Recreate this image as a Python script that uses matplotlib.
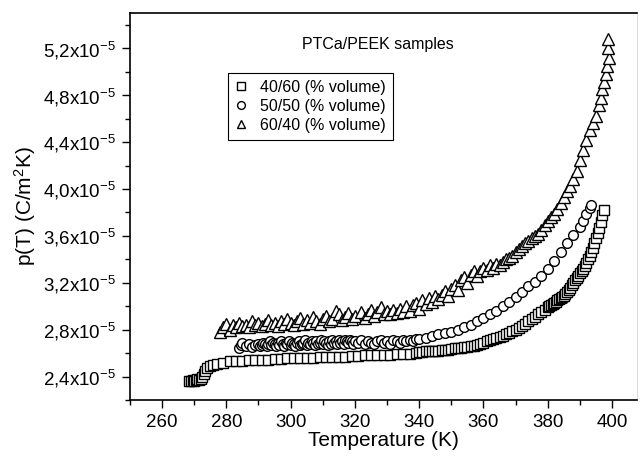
"""
Pyroelectric coefficient p(T) of PTCa/PEEK composite samples
for three volume fractions.
"""

import matplotlib
matplotlib.use('Agg')
import matplotlib.pyplot as plt
from matplotlib.ticker import MultipleLocator, FuncFormatter
import numpy as np

# data, p in units of 1e-5 C/m^2K
T_40_60 = [268.5, 269, 269.5, 270, 270.5, 271, 271.5, 272, 272.5, 273, 273.5, 274, 275, 276, 277,
           279, 281, 283, 285, 287, 289, 291, 293, 295, 297, 299, 301, 303, 305, 307, 309, 311,
           313, 315, 317, 319, 321, 323, 325, 327, 329, 331, 333, 335, 337, 339, 340, 341, 342,
           343, 344, 345, 346, 347, 348, 349, 350, 351, 352, 353, 354, 355, 356, 357, 358, 359,
           360, 361, 362, 363, 364, 365, 366, 367, 368, 369, 370, 371, 372, 373, 374, 375, 376,
           377, 378, 379, 380, 380.5, 381, 381.5, 382, 382.5, 383, 383.5, 384, 384.5, 385, 385.5,
           386, 386.5, 387, 387.5, 388, 388.5, 389, 389.5, 390, 390.5, 391, 391.5, 392, 392.5,
           393, 393.5, 394, 394.5, 395, 395.5, 396, 396.5, 397, 397.5]
p_40_60 = [2.36, 2.36, 2.37, 2.36, 2.37, 2.38, 2.37, 2.38, 2.40, 2.42, 2.45, 2.47, 2.49, 2.50, 2.51,
           2.52, 2.53, 2.53, 2.535, 2.54, 2.54, 2.545, 2.545, 2.55, 2.55, 2.555, 2.555, 2.56, 2.56,
           2.56, 2.565, 2.565, 2.57, 2.57, 2.57, 2.575, 2.575, 2.58, 2.58, 2.58, 2.585, 2.585, 2.59,
           2.59, 2.595, 2.60, 2.61, 2.61, 2.615, 2.615, 2.62, 2.62, 2.62, 2.625, 2.63, 2.63, 2.635,
           2.64, 2.64, 2.645, 2.65, 2.655, 2.66, 2.665, 2.67, 2.68, 2.69, 2.70, 2.71, 2.72, 2.73,
           2.74, 2.75, 2.76, 2.77, 2.785, 2.80, 2.815, 2.83, 2.85, 2.87, 2.89, 2.91, 2.93, 2.95,
           2.97, 2.99, 3.00, 3.01, 3.02, 3.03, 3.04, 3.05, 3.06, 3.07, 3.08, 3.09, 3.105,
           3.12, 3.14, 3.16, 3.18, 3.20, 3.22, 3.24, 3.26, 3.28, 3.30, 3.32, 3.345, 3.37, 3.40,
           3.43, 3.465, 3.50, 3.54, 3.58, 3.625, 3.67, 3.72, 3.78, 3.82]

T_50_50 = [284, 284.5, 285, 286, 287, 288, 289, 290, 290.5, 291, 291.5, 292, 292.5, 293, 293.5,
           294, 294.5, 295, 295.5, 296, 296.5, 297, 297.5, 298, 298.5, 299, 299.5, 300, 300.5,
           301, 301.5, 302, 302.5, 303, 303.5, 304, 304.5, 305, 305.5, 306, 306.5, 307, 307.5,
           308, 308.5, 309, 309.5, 310, 310.5, 311, 311.5, 312, 312.5, 313, 313.5, 314, 314.5,
           315, 315.5, 316, 316.5, 317, 317.5, 318, 318.5, 319, 319.5, 320, 321, 322, 323, 324,
           325, 326, 327, 328, 329, 330, 331, 332, 333, 334, 335, 336, 337, 338, 339, 340, 342,
           344, 346, 348, 350, 352, 354, 356, 358, 360, 362, 364, 366, 368, 370, 372, 374, 376,
           378, 380, 382, 384, 386, 388, 390, 391, 392, 393, 393.5]
p_50_50 = [2.64, 2.67, 2.69, 2.66, 2.68, 2.65, 2.67, 2.68, 2.66, 2.67, 2.69, 2.68, 2.66, 2.68, 2.70,
           2.67, 2.69, 2.68, 2.66, 2.69, 2.67, 2.70, 2.68, 2.66, 2.69, 2.68, 2.70, 2.67, 2.69,
           2.68, 2.66, 2.69, 2.70, 2.67, 2.68, 2.69, 2.71, 2.67, 2.69, 2.68, 2.70, 2.69, 2.67,
           2.70, 2.68, 2.69, 2.71, 2.68, 2.70, 2.69, 2.67, 2.70, 2.68, 2.71, 2.69, 2.70, 2.68,
           2.71, 2.69, 2.70, 2.68, 2.71, 2.70, 2.69, 2.71, 2.70, 2.68, 2.70, 2.69, 2.71, 2.68,
           2.70, 2.69, 2.68, 2.70, 2.71, 2.69, 2.70, 2.68, 2.71, 2.70, 2.69, 2.71, 2.70, 2.71,
           2.70, 2.72, 2.72, 2.73, 2.745, 2.76, 2.77, 2.78, 2.80, 2.82, 2.84, 2.87, 2.90, 2.93,
           2.96, 3.00, 3.04, 3.08, 3.12, 3.17, 3.21, 3.26, 3.32, 3.39, 3.46, 3.54, 3.61, 3.68,
           3.73, 3.79, 3.84, 3.86]

T_60_40 = [278, 279, 280, 281, 282, 283, 284, 285, 286, 287, 288, 289, 290, 291, 292, 293, 294,
           295, 296, 297, 298, 299, 300, 301, 302, 303, 304, 305, 306, 307, 308, 309, 310, 311,
           312, 313, 314, 315, 316, 317, 318, 319, 320, 322, 323, 324, 325, 326, 327, 328, 329,
           330, 331, 332, 333, 334, 335, 336, 337, 338, 339, 340, 341, 342, 343, 344, 345, 346,
           347, 348, 349, 350, 351, 352, 353, 354, 355, 356, 357, 358, 359, 360, 361, 362, 363,
           364, 365, 366, 367, 368, 369, 370, 371, 372, 373, 374, 375, 376, 377, 378, 379, 380,
           381, 382, 383, 384, 385, 386, 387, 388, 389, 390, 391, 392, 393, 394, 395, 396, 396.5,
           397, 397.5, 398, 398.5, 399, 398.8, 398.7]
p_60_40 = [2.78, 2.82, 2.85, 2.80, 2.84, 2.82, 2.86, 2.83, 2.84, 2.82, 2.87, 2.84, 2.86, 2.83, 2.85,
           2.88, 2.84, 2.86, 2.83, 2.87, 2.85, 2.89, 2.86, 2.84, 2.87, 2.90, 2.85, 2.88, 2.86, 2.91,
           2.87, 2.85, 2.89, 2.92, 2.87, 2.89, 2.96, 2.93, 2.88, 2.91, 2.94, 2.89, 2.92, 2.95, 2.90,
           2.93, 2.97, 2.92, 2.95, 2.99, 2.93, 2.96, 2.93, 2.97, 2.94, 2.98, 2.95, 3.00, 2.96, 3.01,
           3.03, 2.98, 3.05, 3.02, 3.07, 3.04, 3.09, 3.06, 3.10, 3.13, 3.09, 3.15, 3.18, 3.14, 3.22,
           3.25, 3.20, 3.27, 3.30, 3.26, 3.30, 3.33, 3.31, 3.35, 3.33, 3.36, 3.35, 3.38, 3.40, 3.41,
           3.43, 3.46, 3.49, 3.51, 3.54, 3.56, 3.58, 3.60, 3.62, 3.65, 3.69, 3.73, 3.76, 3.79, 3.83,
           3.88, 3.93, 3.98, 4.03, 4.09, 4.15, 4.25, 4.33, 4.42, 4.50, 4.56, 4.62, 4.72, 4.78, 4.85,
           4.91, 4.98, 5.05, 5.12, 5.20, 5.28]

labels = ['40/60 (% volume)', '50/50 (% volume)', '60/40 (% volume)']

plt.rcParams['font.family'] = ['Liberation Sans', 'DejaVu Sans']
plt.rcParams['mathtext.fontset'] = 'custom'
plt.rcParams['mathtext.rm'] = 'Liberation Sans'
plt.rcParams['mathtext.it'] = 'Liberation Sans:italic'

fig = plt.figure(figsize=(6.4, 4.57), dpi=100)
ax = fig.add_axes([0.203, 0.1247, 0.792, 0.8463])

style = dict(linestyle='none', markerfacecolor='white', markeredgecolor='black',
             markeredgewidth=1.0)
ax.plot(T_40_60, np.array(p_40_60) * 1e-5, marker='s', markersize=6.5, label=labels[0], **style)
ax.plot(T_50_50, np.array(p_50_50) * 1e-5, marker='o', markersize=7, label=labels[1], **style)
ax.plot(T_60_40, np.array(p_60_40) * 1e-5, marker='^', markersize=8, label=labels[2], **style)

ax.set_xlim(250, 407.7)
ax.set_ylim(2.2e-5, 5.5e-5)
ax.xaxis.set_major_locator(MultipleLocator(20))
ax.xaxis.set_minor_locator(MultipleLocator(10))
ax.yaxis.set_major_locator(MultipleLocator(0.4e-5))
ax.yaxis.set_minor_locator(MultipleLocator(0.2e-5))
ax.yaxis.set_major_formatter(FuncFormatter(
    lambda v, pos: f"{v * 1e5:.1f}".replace('.', ',') + r"x10$^{-5}$"))

ax.tick_params(which='major', direction='out', length=6, width=1, labelsize=13.5)
ax.tick_params(which='minor', direction='out', length=3.5, width=1)
ax.tick_params(axis='x', pad=4)
ax.tick_params(axis='y', pad=4)
for side in ['left', 'bottom', 'top']:
    ax.spines[side].set_linewidth(1.2)
ax.spines['right'].set_color('#dddddd')

ax.set_xlabel('Temperature (K)', fontsize=15, labelpad=0)
ax.set_ylabel(r'p(T) (C/m$^2$K)', fontsize=15, labelpad=4)

ax.text(0.489, 0.918, 'PTCa/PEEK samples', transform=ax.transAxes,
        ha='center', va='center', fontsize=11.5)

leg = ax.legend(loc='upper left', bbox_to_anchor=(0.193, 0.846), borderaxespad=0,
                fontsize=11.5, numpoints=1, handlelength=0.8, handletextpad=0.8,
                labelspacing=0.25, borderpad=0.45, fancybox=False, framealpha=1,
                edgecolor='black', markerscale=0.8)
leg.get_frame().set_linewidth(0.8)

fig.savefig('out.png', dpi=100)
